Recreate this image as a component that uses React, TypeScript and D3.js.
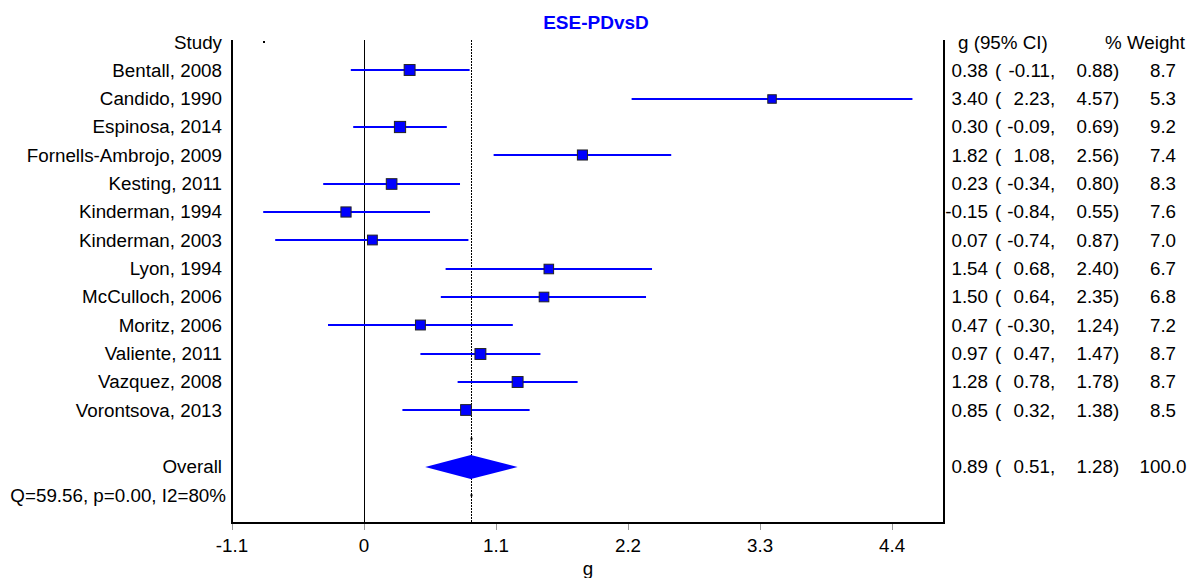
import React from "react";
import * as d3 from "d3";

const studies = [
  "Bentall, 2008",
  "Candido, 1990",
  "Espinosa, 2014",
  "Fornells-Ambrojo, 2009",
  "Kesting, 2011",
  "Kinderman, 1994",
  "Kinderman, 2003",
  "Lyon, 1994",
  "McCulloch, 2006",
  "Moritz, 2006",
  "Valiente, 2011",
  "Vazquez, 2008",
  "Vorontsova, 2013",
];
const effects = [0.38, 3.4, 0.3, 1.82, 0.23, -0.15, 0.07, 1.54, 1.5, 0.47, 0.97, 1.28, 0.85];
const lowers = [-0.11, 2.23, -0.09, 1.08, -0.34, -0.84, -0.74, 0.68, 0.64, -0.3, 0.47, 0.78, 0.32];
const uppers = [0.88, 4.57, 0.69, 2.56, 0.8, 0.55, 0.87, 2.4, 2.35, 1.24, 1.47, 1.78, 1.38];
const weights = [8.7, 5.3, 9.2, 7.4, 8.3, 7.6, 7.0, 6.7, 6.8, 7.2, 8.7, 8.7, 8.5];

const overall = { g: 0.89, lo: 0.51, hi: 1.28, w: 100.0 };
const heterogeneity = "Q=59.56, p=0.00, I2=80%";
const xTicks = [-1.1, 0, 1.1, 2.2, 3.3, 4.4];
const title = "ESE-PDvsD";

const W = 1196;
const H = 578;
const FONT = "'Liberation Sans', Arial, Helvetica, sans-serif";
const FS = 18.8;

export default function App() {
  const x = d3.scaleLinear().domain([-1.1, 4.833]).range([232, 944]);
  const y = d3.scaleLinear().domain([0, 16]).range([42, 495.3]);
  const sq = d3.scaleSqrt().domain([0, 5.3]).range([0, 8.5]);
  const f2 = (v: number) => v.toFixed(2);
  const f1 = (v: number) => v.toFixed(1);
  const top = 40;
  const bottom = 523;
  const blue = "#0000ff";

  const rightCols = (g: number, lo: number, hi: number, w: number, yy: number, key: string) => (
    <g key={key} fontSize={FS} dominantBaseline="central">
      <text x={988} y={yy} textAnchor="end">{f2(g)}</text>
      <text x={995} y={yy}>(</text>
      <text x={1050} y={yy} textAnchor="end">{f2(lo)}</text>
      <text x={1050} y={yy}>,</text>
      <text x={1113} y={yy} textAnchor="end">{f2(hi)}</text>
      <text x={1113} y={yy}>)</text>
      <text x={1163} y={yy} textAnchor="middle">{f1(w)}</text>
    </g>
  );

  const diamond = [
    [x(overall.lo), y(15)],
    [x(overall.g), y(15) - 12],
    [x(overall.hi), y(15)],
    [x(overall.g), y(15) + 12],
  ];

  const zx = Math.round(x(0)) + 0.5;
  const gx = Math.round(x(overall.g)) + 0.5;

  return (
    <svg width={W} height={H} style={{ position: "absolute", left: 0, top: 0 }} fontFamily={FONT}>
      <rect width={W} height={H} fill="#fff" />
      <text x={596} y={22} textAnchor="middle" dominantBaseline="central" fill={blue} fontWeight="bold" fontSize={19}>
        {title}
      </text>

      {/* reference lines */}
      <line x1={zx} x2={zx} y1={top} y2={bottom} stroke="#000" strokeWidth={1} />
      <line x1={gx} x2={gx} y1={top} y2={bottom} stroke="#000" strokeWidth={1} strokeDasharray="2,1" />

      {/* small markers */}
      <rect x={263} y={41} width={2} height={2} fill="#000" />
      <rect x={gx - 1} y={y(14) - 1} width={2} height={2} fill="#000" />
      <rect x={gx - 1} y={y(16) - 1} width={2} height={2} fill="#000" />

      {/* axes frame */}
      <line x1={232} x2={232} y1={top} y2={bottom + 1} stroke="#000" strokeWidth={2} />
      <line x1={944} x2={944} y1={top} y2={bottom + 1} stroke="#000" strokeWidth={2} />
      <line x1={231} x2={945} y1={bottom} y2={bottom} stroke="#000" strokeWidth={2} />

      {xTicks.map((t) => (
        <g key={t}>
          <line x1={Math.round(x(t)) + 0.5} x2={Math.round(x(t)) + 0.5} y1={bottom + 1} y2={bottom + 7} stroke="#999" strokeWidth={1} />
          <text x={x(t)} y={545} textAnchor="middle" dominantBaseline="central" fontSize={FS}>
            {t}
          </text>
        </g>
      ))}
      <text x={588} y={568} textAnchor="middle" dominantBaseline="central" fontSize={FS}>g</text>

      {/* left labels */}
      <g fontSize={FS} textAnchor="end" dominantBaseline="central">
        <text x={222} y={y(0)}>Study</text>
        {studies.map((s, i) => (
          <text key={s} x={222} y={y(i + 1)}>{s}</text>
        ))}
        <text x={222} y={y(15)}>Overall</text>
        <text x={226} y={y(16)}>{heterogeneity}</text>
      </g>

      {/* study CIs and squares */}
      {studies.map((s, i) => {
        const yy = Math.round(y(i + 1));
        const side = sq(weights[i]);
        return (
          <g key={s}>
            <line x1={x(lowers[i])} x2={x(uppers[i])} y1={yy} y2={yy} stroke={blue} strokeWidth={2} />
            <rect x={x(effects[i]) - side / 2} y={yy - side / 2} width={side} height={side} fill={blue} stroke="#222" strokeWidth={1} />
          </g>
        );
      })}

      <polygon points={diamond.map((p) => p.join(",")).join(" ")} fill={blue} />

      {/* right headers */}
      <g fontSize={FS} dominantBaseline="central">
        <text x={958} y={y(0)}>g (95% CI)</text>
        <text x={1105} y={y(0)}>% Weight</text>
      </g>
      {studies.map((s, i) => rightCols(effects[i], lowers[i], uppers[i], weights[i], y(i + 1), s))}
      {rightCols(overall.g, overall.lo, overall.hi, overall.w, y(15), "overall")}
    </svg>
  );
}
